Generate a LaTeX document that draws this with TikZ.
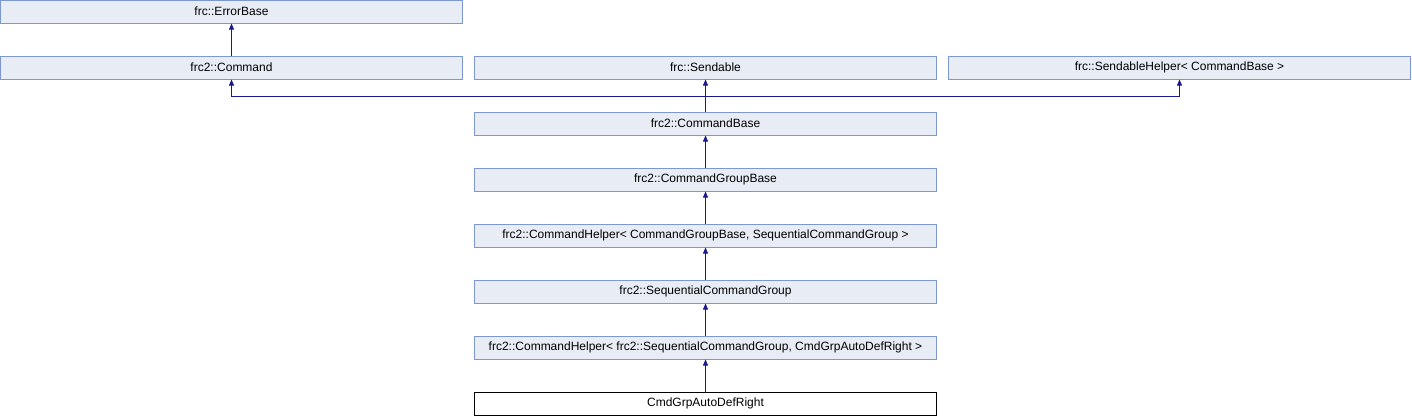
\documentclass[tikz,border=0pt]{standalone}
\usepackage{fontspec}
\setmainfont{Liberation Sans}
\usetikzlibrary{arrows.meta}
\definecolor{boxfill}{HTML}{E8ECF5}
\definecolor{boxline}{HTML}{7C98CE}
\definecolor{edgecol}{HTML}{1A1A8C}
\tikzset{
  cls/.style={draw=boxline, fill=boxfill, line width=1pt, minimum width=462pt, minimum height=23pt, inner sep=0pt, font=\fontsize{12}{14}\selectfont, text=black},
  leafcls/.style={cls, draw=black, fill=white},
  inh/.style={draw=edgecol, line width=1pt, -{Triangle[length=6pt,width=5pt]}}
}
\begin{document}
\begin{tikzpicture}[x=1pt,y=-1pt]
\useasboundingbox (0,0) rectangle (1412,416);
\node[cls] (eb) at (231.5,11.5) {frc::ErrorBase};
\node[cls] (cmd) at (231.5,67.5) {frc2::Command};
\node[cls] (snd) at (705.5,67.5) {frc::Sendable};
\node[cls] (sh) at (1179.5,67.5) {frc::SendableHelper< CommandBase >};
\node[cls] (cb) at (705.5,123.5) {frc2::CommandBase};
\node[cls] (cgb) at (705.5,179.5) {frc2::CommandGroupBase};
\node[cls] (ch1) at (705.5,235.5) {frc2::CommandHelper< CommandGroupBase, SequentialCommandGroup >};
\node[cls] (scg) at (705.5,291.5) {frc2::SequentialCommandGroup};
\node[cls] (ch2) at (705.5,347.5) {frc2::CommandHelper< frc2::SequentialCommandGroup, CmdGrpAutoDefRight >};
\node[leafcls] (leaf) at (705.5,403.5) {CmdGrpAutoDefRight};
\coordinate (j) at (705.5,96);
\draw[inh] (cmd.north) -- (eb.south);
\draw[inh] (cb.north) -- (snd.south);
\draw[inh] (j) -| (cmd.south);
\draw[inh] (j) -| (sh.south);
\draw[inh] (cgb.north) -- (cb.south);
\draw[inh] (ch1.north) -- (cgb.south);
\draw[inh] (scg.north) -- (ch1.south);
\draw[inh] (ch2.north) -- (scg.south);
\draw[inh] (leaf.north) -- (ch2.south);
\end{tikzpicture}
\end{document}
